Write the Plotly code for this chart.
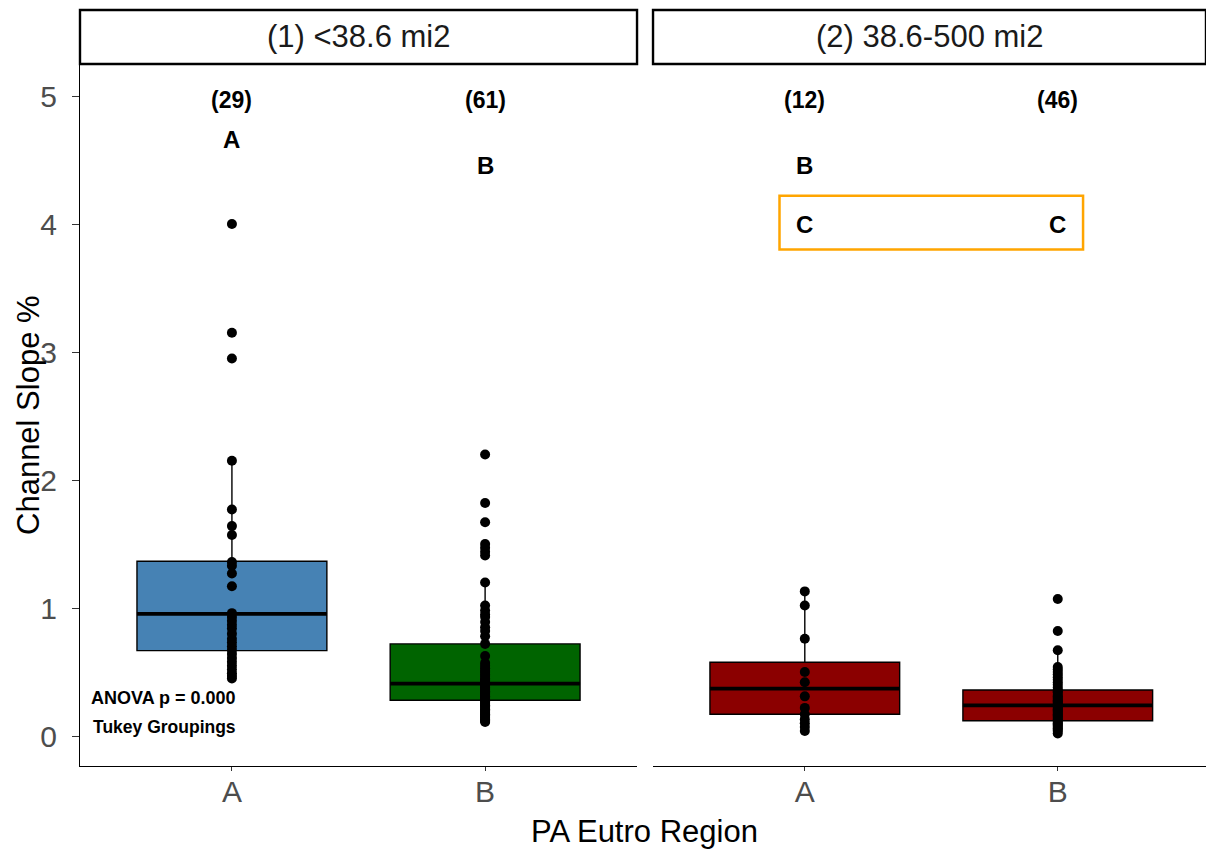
import plotly.graph_objects as go

# ---------------- data ----------------
facets = ["(1) &lt;38.6 mi2", "(2) 38.6-500 mi2"]
categories = ["A", "B"]
counts = [[29, 61], [12, 46]]

# raw points (Channel Slope %)
p1_A = [4.0, 3.15, 2.95, 2.15, 1.77, 1.64, 1.57, 1.36, 1.33, 1.27, 1.17, 0.96,
        0.93, 0.90, 0.87, 0.84, 0.80, 0.76, 0.73, 0.70, 0.67, 0.64, 0.61, 0.58,
        0.55, 0.52, 0.49, 0.47, 0.45]
p1_B = [2.2, 1.82, 1.67, 1.50, 1.47, 1.44, 1.41, 1.20, 1.02, 0.98, 0.95, 0.93,
        0.89, 0.85, 0.82, 0.78, 0.72, 0.625, 0.57, 0.55, 0.53, 0.51, 0.50, 0.48,
        0.47, 0.45, 0.44, 0.43, 0.42, 0.41, 0.40, 0.39, 0.38, 0.37, 0.36, 0.35,
        0.34, 0.33, 0.32, 0.31, 0.30, 0.29, 0.28, 0.27, 0.26, 0.25, 0.24, 0.23,
        0.22, 0.21, 0.20, 0.19, 0.18, 0.17, 0.16, 0.15, 0.14, 0.13, 0.12, 0.12,
        0.11]
p2_A = [1.13, 1.02, 0.76, 0.50, 0.42, 0.31, 0.22, 0.17, 0.13, 0.10, 0.07, 0.04]
p2_B = [1.07, 0.82, 0.67, 0.54, 0.52, 0.50, 0.48, 0.46, 0.44, 0.42, 0.40, 0.38,
        0.36, 0.35, 0.34, 0.32, 0.31, 0.30, 0.29, 0.28, 0.27, 0.26, 0.25, 0.24,
        0.24, 0.23, 0.22, 0.21, 0.20, 0.19, 0.18, 0.17, 0.16, 0.15, 0.14, 0.13,
        0.12, 0.11, 0.10, 0.09, 0.08, 0.07, 0.06, 0.05, 0.04, 0.02]
points = [[p1_A, p1_B], [p2_A, p2_B]]

# box statistics (as drawn)
q1 = [[0.667, 0.28], [0.17, 0.12]]
median = [[0.955, 0.41], [0.37, 0.24]]
q3 = [[1.366, 0.72], [0.576, 0.36]]
lower_whisker = [[0.45, 0.11], [0.04, 0.02]]
upper_whisker = [[2.15, 1.20], [1.13, 0.67]]

box_colors = [["#4682B4", "#006400"], ["#8B0000", "#8B0000"]]

# Tukey letters: (facet, category, letter, y)
letters = [(0, 0, "A", 4.66), (0, 1, "B", 4.46), (1, 0, "B", 4.46),
           (1, 0, "C", 4.0), (1, 1, "C", 4.0)]
count_y = 4.97

FONT = "Liberation Sans, Arial, sans-serif"
BOX_W = 0.75

fig = go.Figure()
xrefs = ["x", "x2"]
yrefs = ["y", "y2"]

for f in range(2):
    for c in range(2):
        fig.add_trace(go.Box(
            x=[c], q1=[q1[f][c]], median=[median[f][c]], q3=[q3[f][c]],
            lowerfence=[lower_whisker[f][c]], upperfence=[upper_whisker[f][c]],
            width=BOX_W, fillcolor=box_colors[f][c],
            line=dict(color="black", width=1.4), whiskerwidth=0,
            boxpoints=False, showlegend=False, hoverinfo="skip",
            xaxis=xrefs[f], yaxis=yrefs[f]))
        fig.add_trace(go.Scatter(
            x=[c - BOX_W / 2, c + BOX_W / 2], y=[median[f][c]] * 2,
            mode="lines", line=dict(color="black", width=3.8),
            showlegend=False, hoverinfo="skip",
            xaxis=xrefs[f], yaxis=yrefs[f]))
    for c in range(2):
        fig.add_trace(go.Scatter(
            x=[c] * len(points[f][c]), y=points[f][c], mode="markers",
            marker=dict(color="black", size=10),
            showlegend=False, xaxis=xrefs[f], yaxis=yrefs[f]))

annotations = []
for f in range(2):
    for c in range(2):
        annotations.append(dict(
            x=c, y=count_y, xref=xrefs[f], yref=yrefs[f],
            xanchor="center", yanchor="middle",
            text=f"<b>({counts[f][c]})</b>", showarrow=False,
            font=dict(family=FONT, size=23, color="black")))
for f, c, t, yv in letters:
    annotations.append(dict(
        x=c, y=yv, xref=xrefs[f], yref=yrefs[f], text=f"<b>{t}</b>",
        xanchor="center", yanchor="middle",
        showarrow=False, font=dict(family=FONT, size=24, color="black")))

annotations += [
    dict(x=0.025, y=0.30, xref="x", yref="y", xanchor="right", yanchor="middle",
         text="<b>ANOVA p = 0.000</b>", showarrow=False,
         font=dict(family=FONT, size=18, color="black")),
    dict(x=0.025, y=0.07, xref="x", yref="y", xanchor="right", yanchor="middle",
         text="<b>Tukey Groupings</b>", showarrow=False,
         font=dict(family=FONT, size=17.5, color="black")),
]

# facet strip labels
for f in range(2):
    annotations.append(dict(
        x=0.5, y=1.0385, xref=f"{xrefs[f]} domain", yref="paper",
        xanchor="center", yanchor="middle",
        text=facets[f], showarrow=False,
        font=dict(family=FONT, size=31, color="#1A1A1A")))

# axis titles
annotations += [
    dict(x=0.501, y=-0.094, xref="paper", yref="paper",
         xanchor="center", yanchor="middle",
         text="PA Eutro Region", showarrow=False,
         font=dict(family=FONT, size=31, color="black")),
    dict(x=-0.0462, y=0.5, xref="paper", yref="paper",
         xanchor="center", yanchor="middle",
         text="Channel Slope %", showarrow=False, textangle=-90,
         font=dict(family=FONT, size=31, color="black")),
]

shapes = []
for f in range(2):
    shapes.append(dict(
        type="rect", xref=f"{xrefs[f]} domain", yref="paper",
        x0=0, x1=1, y0=1.0, y1=1.0769, layer="below",
        line=dict(color="black", width=2.4), fillcolor="white"))
# orange highlight around the shared 'C' letters
c_y = [yv for f, c, t, yv in letters if t == "C"][0]
shapes.append(dict(
    type="rect", xref="x2", yref="y2", x0=-0.1, x1=1.1,
    y0=c_y - 0.2, y1=c_y + 0.22,
    line=dict(color="#FFA500", width=2.5), fillcolor="rgba(0,0,0,0)"))

xaxis_common = dict(
    tickvals=[0, 1], ticktext=categories, ticks="outside", ticklen=4,
    tickcolor="#333333", showline=True, linecolor="black", linewidth=1.3,
    showgrid=False, zeroline=False, ticklabelstandoff=-5,
    tickfont=dict(family=FONT, size=30, color="#4D4D4D"))

fig.update_layout(
    width=1206, height=853,
    margin=dict(l=80, r=0, t=64, b=87),
    plot_bgcolor="white", paper_bgcolor="white",
    xaxis=dict(domain=[0, 0.4947], range=[-0.6, 1.6], **xaxis_common),
    xaxis2=dict(domain=[0.5089, 1.0], range=[-0.6, 1.586], **xaxis_common),
    yaxis=dict(range=[-0.234, 5.25], tickvals=[0, 1, 2, 3, 4, 5],
               ticks="outside", ticklen=7, tickcolor="#333333",
               showline=True, linecolor="black", linewidth=1.3,
               showgrid=False, zeroline=False, anchor="x",
               ticklabelstandoff=9,
               tickfont=dict(family=FONT, size=30, color="#4D4D4D")),
    yaxis2=dict(range=[-0.234, 5.25], matches="y", anchor="x2",
                showticklabels=False, showline=False, ticks="",
                showgrid=False, zeroline=False),
    annotations=annotations, shapes=shapes,
    showlegend=False,
)

fig.write_html("out.html")
